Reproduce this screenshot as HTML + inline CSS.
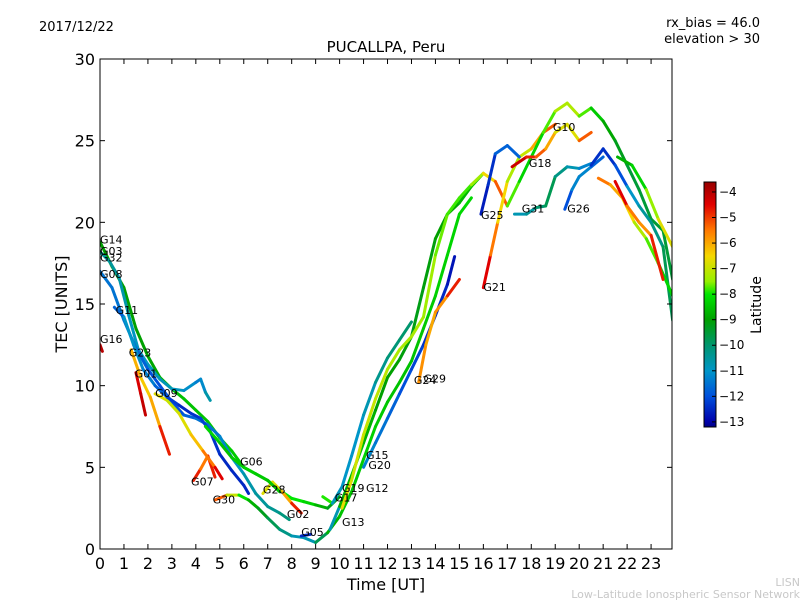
<!DOCTYPE html>
<html><head><meta charset="utf-8"><style>
body{margin:0;background:#fff;font-family:"Liberation Sans","DejaVu Sans",sans-serif}
svg text{font-family:"DejaVu Sans","Liberation Sans",sans-serif}
</style></head><body>
<svg id="chart" width="800" height="600" xmlns="http://www.w3.org/2000/svg">
<rect width="800" height="600" fill="#fff"/>
<text x="39" y="31" font-size="13">2017/12/22</text>
<text x="386" y="52" font-size="15" text-anchor="middle">PUCALLPA, Peru</text>
<text x="760" y="27" font-size="13" text-anchor="end">rx_bias = 46.0</text>
<text x="760" y="43" font-size="13" text-anchor="end">elevation &gt; 30</text>
<text transform="translate(67,304) rotate(-90)" font-size="16" text-anchor="middle">TEC [UNITS]</text>
<text x="386" y="590" font-size="16" text-anchor="middle">Time [UT]</text>
<text transform="translate(761,305) rotate(-90)" font-size="14" text-anchor="middle">Latitude</text>
<text x="800" y="586" font-size="11" fill="#c8c8c8" text-anchor="end">LISN</text>
<text x="800" y="598" font-size="11" fill="#c8c8c8" text-anchor="end">Low-Latitude Ionospheric Sensor Network</text>
<g id="plot"></g>
<g id="axes"></g>
<g id="cbar"></g>
</svg>
<script>
const xTicks=[0,1,2,3,4,5,6,7,8,9,10,11,12,13,14,15,16,17,18,19,20,21,22,23];
const yTicks=[0,5,10,15,20,25,30];
const cTicks=[-4,-5,-6,-7,-8,-9,-10,-11,-12,-13];
const seriesNames=["G14","G32","G08","G30","G16","G23","G01","G07","G09","G11","G28","G05","G13","G17","R3","G24","G29","G21","G25","G10","G31","G26","G18","E1","E2","E3","E4","G06"];
const seriesT=[
[0,0.5,1,1.5,2,2.5,3,3.5,4,4.5,5,5.5,6,6.5,7,7.5,8,8.5,9,9.5,10],
[0,0.4,0.8,1.2,1.6,2,2.5,3,3.5,4,4.2,4.4,4.6],
[0,0.5,1,1.5,2,2.5,3,3.5,4,4.5,5,5.5,6,6.5,7,7.5,7.9],
[4.8,5.3,5.8,6.2,6.6,7,7.5,8,8.5,9,9.5,10,10.5,11,11.5,12,12.5,13,13.5,14,14.5,15,15.5],
[0,0.1],
[1.5,1.7,1.9],
[1.3,1.7,2.1,2.5,2.9],
[3.9,4.2,4.5,4.8],
[2.3,2.8,3.3,3.8,4.3,4.8,5.1],
[0.6,1,1.4,1.8,2.3,2.8,3.3,3.8,4.2,4.6,5,5.5,6,6.2],
[6.8,7.2,7.6,8,8.4],
[8.4,8.8],
[9.6,10,10.5,11,11.5,12,12.5,13,13.5,14,14.5,15,15.5,16],
[9.3,9.7,10.1,10.5,11,11.5,12,12.5,13],
[10.1,10.5,11,11.5,12,12.5,13,13.5,14,14.5,15,15.5,16,16.5,17],
[11,11.5,12,12.5,13,13.5,14,14.5,14.8],
[13.3,13.6,14,14.5,15],
[16,16.3,16.6,17,17.5,18,18.5,19],
[15.9,16.2,16.5,17,17.5],
[17,17.5,18,18.5,19,19.5,20,20.5,21,21.5,22,22.5,23,23.5,23.9],
[17.3,17.8,18.2,18.6,19,19.5,20,20.5],
[19.4,19.7,20,20.5,21],
[17.2,17.8,18.2,18.6,19,19.5,20,20.5],
[20.5,21,21.5,22,22.5,23,23.5,23.9],
[20.8,21.3,21.8,22.3,22.8,23.3,23.9],
[21.5,22,22.5,23,23.5],
[21.6,22.2,22.8,23.3,23.9],
[4.4,5,5.5,6,6.5,7,7.5]];
const seriesV=[
[18.8,17.3,16,13.5,11.8,10.5,9.8,9.2,8.5,7.8,6.8,6,5,4.6,4.2,3.6,3.1,2.9,2.7,2.5,3.2],
[18.2,17.6,16.6,14.3,12.2,11.3,10.4,9.8,9.7,10.2,10.4,9.6,9.1],
[17,16,14,12.3,11,10,9,8.2,8,7.6,6.9,5.6,4.6,3.4,2.6,2.2,1.8],
[3,3.3,3.3,3,2.5,1.9,1.2,0.8,0.7,0.4,1,2,3.5,5.5,7.5,9,10.2,11.5,13.5,15.5,18,20.5,21.5],
[12.5,12.1],
[10.8,9.5,8.2],
[12.2,10.5,9.3,7.5,5.8],
[4.2,4.9,5.7,4.4],
[9.5,9.1,8.3,7,6,5,4.3],
[14.8,14.2,12.5,11,10,9.3,8.8,8.3,8,7.2,5.8,4.8,3.9,3.4],
[3.4,4.1,3.5,2.8,2.2],
[0.8,0.9],
[1.2,2.6,4.5,6.5,8.5,10.5,11.6,13,16,19,20.5,21.2,22.2,23],
[3.2,2.8,3.8,5.7,8.2,10.2,11.7,12.8,13.9],
[2.5,4.2,7,9.2,11,12.2,13,14.2,18,20.5,21.5,22.3,23,22.5,21],
[5,6.5,8,9.5,11,12.5,14.3,16.2,17.9],
[10.2,12.5,14.5,15.5,16.5],
[16,18,20,22.5,24,24.5,25.5,26],
[20.5,22.3,24.2,24.7,24],
[21,22.5,24,25.5,26.8,27.3,26.5,27,26.2,25,23.5,22,20.2,19.5,16.5],
[20.5,20.5,20.9,21,22.8,23.4,23.3,23.6],
[20.8,22,22.8,23.4,24],
[23.4,24,24,24.5,25.5,26,25,25.5],
[23.5,24.5,23.5,22.2,21,20,18.5,14],
[22.7,22.3,21.5,20,19,17.5,15.5],
[22.5,21,20,19.2,16.5],
[24,23.5,22,20.2,18.5],
[7.5,6.5,5.6,5,4.6,4.2,3.5]];
const seriesLat=[
[-9,-9,-9,-9,-9,-8.8,-8.6,-8.5,-8.5,-8.5,-8.3,-8.3,-8.5,-8.5,-8.3,-8,-8,-8,-8.5,-9,-9.5],
[-10.5,-10.5,-10.5,-10.8,-11,-11,-10.8,-10.8,-11,-11.2,-11.5,-10.8,-10.5],
[-11.5,-11.5,-11.5,-11.5,-12,-12,-12,-12,-11.5,-11.5,-11.5,-11,-10.8,-10.5,-10.5,-10.3,-10],
[-4,-6.5,-7.5,-8.5,-9,-9.5,-10,-10.5,-11,-10.5,-9,-8.5,-8.5,-8.3,-8.3,-8.5,-8.5,-8.5,-8.5,-8.3,-8.3,-8.2,-8.2],
[-4,-4],
[-4.5,-4.3,-4],
[-6,-6.2,-6.5,-5.5,-4],
[-4,-5.5,-5.5,-4],
[-6.5,-7,-7,-6.5,-6,-5,-4],
[-12.5,-11,-11,-11.2,-11.5,-12,-12.5,-12.5,-12.2,-12.2,-12.5,-12.5,-12.5,-12.5],
[-6.5,-7,-6.5,-5.5,-4],
[-12.5,-12.5],
[-12.5,-9,-8.5,-8.5,-9,-9,-9,-9.2,-9.2,-9,-9,-8.8,-8.5,-8.5],
[-5,-10.8,-11,-11,-11,-10.5,-10.2,-10,-10],
[-6.5,-6.8,-7,-7,-7.2,-7.3,-7.3,-7.3,-7.5,-7.8,-7.8,-7.8,-7,-6,-4.5],
[-11,-11.5,-11.5,-12,-12,-12.3,-12.5,-12.5,-13],
[-5.5,-6,-6,-5.5,-4],
[-4,-5,-6,-7,-7.5,-6.5,-5.5,-5],
[-12.5,-12.8,-12,-11.5,-12],
[-7.5,-8,-8.5,-8,-7.5,-7,-7.5,-8,-8.8,-9,-9.5,-9.5,-9.5,-9.5,-9.5],
[-11,-10.5,-10.5,-9.5,-10,-10.5,-11,-11.5],
[-12.5,-11.5,-11,-11.5,-12],
[-4,-4.5,-5,-5.5,-6.5,-7,-6.5,-4],
[-12.5,-12.3,-12.5,-11.5,-10.5,-10.5,-10,-9.5],
[-5,-6,-6,-7,-7.5,-8,-8.5],
[-4,-5,-6,-5.5,-4],
[-9,-8.5,-8,-7,-6.5],
[-8,-8.5,-8.5,-8.3,-8.3,-8.5,-8.5]];
const labelNames=["G14","G03","G32","G08","G11","G16","G23","G01","G09","G06","G07","G28","G30","G02","G05","G19","G17","G13","G15","G20","G12","G24","G29","G21","G25","G31","G26","G18","G10"];
const labelT=[0,0,0,0,0.65,0,1.2,1.45,2.3,5.85,3.8,6.8,4.7,7.8,8.4,10.1,9.8,10.1,11.1,11.2,11.1,13.1,13.5,16,15.9,17.6,19.5,17.9,18.9];
const labelV=[18.7,18,17.6,16.6,14.4,12.6,11.8,10.5,9.3,5.1,3.9,3.4,2.8,1.9,0.8,3.5,2.9,1.4,5.5,4.9,3.5,10.1,10.2,15.8,20.2,20.6,20.6,23.4,25.6];
const X0=100,X1=672,Y0=549,Y1=59;
const xs=t=>X0+t*23.96;
const ys=v=>Y0-(v/30)*(Y0-Y1);
const cTop=182,cBot=427,latTop=-3.61,latBot=-13.2;
const cy=l=>cTop+(latTop-l)/(latTop-latBot)*(cBot-cTop);
const cmapLat=[-3.61,-4.5,-5.5,-6.5,-7.5,-8,-9,-10,-11,-12,-13,-13.2];
const cmapRGB=[[150,0,0],[225,0,0],[255,120,0],[245,215,0],[150,240,0],[0,230,0],[0,160,0],[0,150,110],[0,150,200],[0,80,220],[0,0,170],[0,0,130]];
function jet(l){
 if(l>=cmapLat[0])return `rgb(${cmapRGB[0].join(',')})`;
 for(let i=0;i<cmapLat.length-1;i++){
  if(l<=cmapLat[i]&&l>=cmapLat[i+1]){const f=(cmapLat[i]-l)/(cmapLat[i]-cmapLat[i+1]);
   const c=cmapRGB[i].map((a,k)=>Math.round(a+(cmapRGB[i+1][k]-a)*f));return `rgb(${c.join(',')})`;}
 }
 return `rgb(${cmapRGB[cmapRGB.length-1].join(',')})`;
}
const NS="http://www.w3.org/2000/svg";
function mk(tag,attrs,parent){const e=document.createElementNS(NS,tag);for(const k in attrs)e.setAttribute(k,attrs[k]);parent.appendChild(e);return e;}
const plot=document.getElementById('plot'),axes=document.getElementById('axes'),cbar=document.getElementById('cbar');
const defs=mk('defs',{},plot);const cp=mk('clipPath',{id:'clip'},defs);mk('rect',{x:X0,y:Y1,width:X1-X0,height:Y0-Y1},cp);
const lg=mk('g',{'clip-path':'url(#clip)'},plot);
seriesT.forEach((ts,i)=>{
 const g=mk('g',{},lg);
 
 
 const vs=seriesV[i],ls=seriesLat[i];
 for(let j=0;j<ts.length-1;j++){
  const s=mk('line',{x1:xs(ts[j]),y1:ys(vs[j]),x2:xs(ts[j+1]),y2:ys(vs[j+1]),stroke:jet((ls[j]+ls[j+1])/2),'stroke-width':3,'stroke-linecap':'round'},g);
  
  
 }
});
labelNames.forEach((n,i)=>{
 const t=mk('text',{x:xs(labelT[i]),y:ys(labelV[i]),'font-size':11},plot);
 
 
 t.textContent=n;
});
const fr=mk('rect',{x:X0,y:Y1,width:X1-X0,height:Y0-Y1,fill:'none',stroke:'#000','stroke-width':1},axes);


xTicks.forEach(t=>{const x=xs(t);
 mk('line',{x1:x,y1:Y0,x2:x,y2:Y0-5,stroke:'#000'},axes);mk('line',{x1:x,y1:Y1,x2:x,y2:Y1+5,stroke:'#000'},axes);
 const tx=mk('text',{x:x,y:Y0+20,'font-size':16,'text-anchor':'middle'},axes);
 
 
 tx.textContent=t;});
yTicks.forEach(v=>{const y=ys(v);
 mk('line',{x1:X0,y1:y,x2:X0+5,y2:y,stroke:'#000'},axes);mk('line',{x1:X1,y1:y,x2:X1-5,y2:y,stroke:'#000'},axes);
 const tx=mk('text',{x:X0-5,y:y+6,'font-size':16,'text-anchor':'end'},axes);
 
 
 tx.textContent=v;});
for(let y=cTop;y<cBot;y++){mk('rect',{x:704,y:y,width:12,height:1.2,fill:jet(latTop-(y+0.5-cTop)/(cBot-cTop)*(latTop-latBot))},cbar);}
const cf=mk('rect',{x:704,y:cTop,width:12,height:cBot-cTop,fill:'none',stroke:'#000'},cbar);


cTicks.forEach(l=>{const y=cy(l);
 mk('line',{x1:712,y1:y,x2:716,y2:y,stroke:'#000'},cbar);
 const tx=mk('text',{x:719,y:y+4,'font-size':12},cbar);
 
 
 tx.textContent=String(l).replace('-','\u2212');});
</script>
</body></html>
